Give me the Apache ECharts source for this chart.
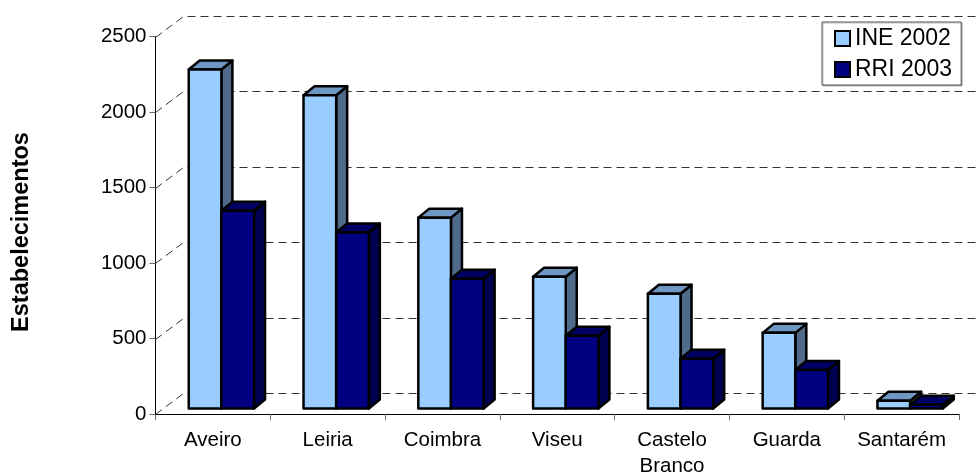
<!DOCTYPE html>
<html><head><meta charset="utf-8">
<style>html,body{margin:0;padding:0;background:#fff}#c{width:978px;height:474px}</style>
<script src="https://cdn.jsdelivr.net/npm/echarts@6/dist/echarts.min.js"></script>
</head><body><div id="c"></div>
<script>
const categories = ['Aveiro','Leiria','Coimbra','Viseu','Castelo\nBranco','Guarda','Santarém'];
const ine2002 = [2245,2074,1264,873,760,501,51];
const rri2003 = [1310,1165,860,482,329,255,25];
const yTicks = [0,500,1000,1500,2000,2500];
const FONT = '"Liberation Sans", Arial, sans-serif';
const WALL = {dx:28, dy:-21};
const BAR = {dx:11, dy:-9, ox:8.5, oy:-5.5, w:0.2845};
const chart = echarts.init(document.getElementById('c'), null, {renderer:'canvas'});

function barItem(side, front, topC, sideC){
  return function(params, api){
    const i = api.value(0), v = api.value(1);
    const base = api.coord([i,0]), top = api.coord([i,v]);
    const band = api.size([1,0])[0];
    const w = band*BAR.w;
    const x0 = base[0] + BAR.ox + (side<0 ? -w : 0), x1 = x0 + w;
    const yb = base[1] + BAR.oy, yt = top[1] + BAR.oy;
    const st = {stroke:'#000', lineWidth:2.5, lineJoin:'round'};
    return {type:'group', children:[
      {type:'polygon', shape:{points:[[x1,yt],[x1+BAR.dx,yt+BAR.dy],[x1+BAR.dx,yb+BAR.dy],[x1,yb]]}, style:{...st, fill:sideC}},
      {type:'polygon', shape:{points:[[x0,yt],[x0+BAR.dx,yt+BAR.dy],[x1+BAR.dx,yt+BAR.dy],[x1,yt]]}, style:{...st, fill:topC}},
      {type:'rect', shape:{x:x0,y:yt,width:w,height:yb-yt}, style:{...st, fill:front}}
    ]};
  };
}
chart.setOption({
  animation:false,
  backgroundColor:'#fff',
  textStyle:{fontFamily:FONT},
  grid:{left:155.5, right:19, top:36.5, bottom:60, containLabel:false, outerBoundsMode:'none'},
  graphic:[{type:'text', silent:true, rotation:Math.PI/2, x:22, y:232,
    style:{text:'Estabelecimentos', font:'bold 23.5px '+FONT, fill:'#000', textAlign:'center', textVerticalAlign:'middle'}}],
  legend:{left:822, top:22, orient:'vertical', padding:[5,9,4,12], itemGap:8, itemWidth:15, itemHeight:15,
    backgroundColor:'#fff', borderColor:'#555', borderWidth:1, icon:'rect',
    shadowColor:'rgba(0,0,0,.25)', shadowOffsetX:1, shadowOffsetY:1, shadowBlur:0,
    data:['INE 2002','RRI 2003'],
    textStyle:{fontSize:23, lineHeight:22, color:'#000', fontFamily:FONT},
    itemStyle:{borderColor:'#000', borderWidth:2}},
  xAxis:{type:'category', data:categories, boundaryGap:true,
    axisLine:{lineStyle:{color:'#000',width:1}}, axisTick:{show:true,length:6,lineStyle:{color:'#666'}},
    axisLabel:{fontSize:20.5,color:'#000',margin:13,lineHeight:26,interval:0}, splitLine:{show:false}},
  yAxis:{type:'value', min:yTicks[0], max:yTicks[yTicks.length-1], interval:500,
    axisLine:{show:true,lineStyle:{color:'#000',width:1}}, axisTick:{show:true,length:6,lineStyle:{color:'#666'}},
    axisLabel:{fontSize:20.5,color:'#000',margin:9,formatter:v=>String(v)}, splitLine:{show:false}},
  series:[
    {type:'custom', name:'wall', coordinateSystem:'cartesian2d', clip:false, z:1, silent:true,
      encode:{x:1,y:0}, data:yTicks.map(v=>[v,0]),
      renderItem:(p,api)=>{const v=api.value(0); const p0=api.coord([0,v]); const band=api.size([1,0])[0];
        const left=p0[0]-band/2, right=left+band*categories.length, y=Math.round(p0[1])+.5;
        return {type:'polyline',silent:true,shape:{points:[[left,y],[left+WALL.dx,y+WALL.dy],[right+WALL.dx,y+WALL.dy]]},
          style:{fill:null,stroke:'#333',lineWidth:1,lineDash:[8,5]}};}},
    {type:'custom', name:'INE 2002', coordinateSystem:'cartesian2d', clip:false, z:2,
      itemStyle:{color:'#99CCFF'}, encode:{x:0,y:1},
      data:ine2002.map((v,i)=>[i,v]), renderItem:barItem(-1,'#99CCFF','#6F97C4','#4F6A8B')},
    {type:'custom', name:'RRI 2003', coordinateSystem:'cartesian2d', clip:false, z:3,
      itemStyle:{color:'#000080'}, encode:{x:0,y:1},
      data:rri2003.map((v,i)=>[i,v]), renderItem:barItem(1,'#000080','#000064','#000050')}
  ]
});
</script></body></html>
